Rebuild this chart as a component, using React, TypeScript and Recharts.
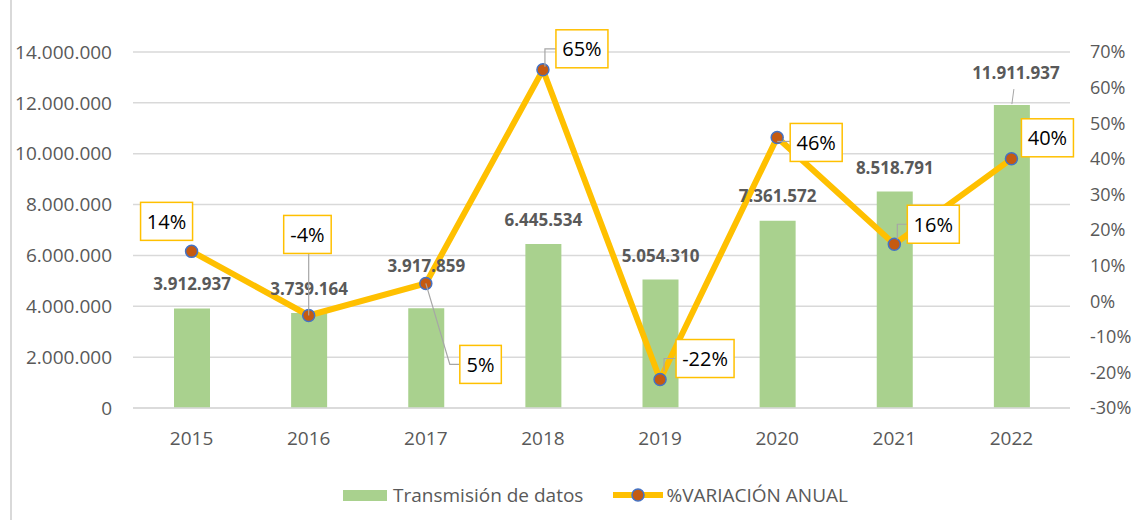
import React from 'react';
import { ComposedChart, Bar, Line, XAxis, YAxis, CartesianGrid, Legend, LabelList } from 'recharts';

const YEARS = ['2015', '2016', '2017', '2018', '2019', '2020', '2021', '2022'];
const TRANSMISION = [3912937, 3739164, 3917859, 6445534, 5054310, 7361572, 8518791, 11911937];
const VARIACION = [14, -4, 5, 65, -22, 46, 16, 40];
const LEFT_TICKS = [0, 2000000, 4000000, 6000000, 8000000, 10000000, 12000000, 14000000];
const RIGHT_TICKS = [-30, -20, -10, 0, 10, 20, 30, 40, 50, 60, 70];

const data = YEARS.map((year, i) => ({ year, transmision: TRANSMISION[i], variacion: VARIACION[i] }));

const GREEN = '#A9D18E';
const YELLOW = '#FFC000';
const DOT = '#C55A11';
const DOT_EDGE = '#4472C4';
const AXIS_TEXT = '#595959';
const LEADER = '#A6A6A6';
const FONT = '"Open Sans", "Noto Sans", sans-serif';

// manual placement of the data labels, like the original workbook
const BAR_LABEL_POS = [
  { dx: 0, dy: -25 },
  { dx: 0, dy: -24 },
  { dx: 0, dy: -43 },
  { dx: 0, dy: -25 },
  { dx: 0, dy: -24 },
  { dx: 0, dy: -25 },
  { dx: 0, dy: -24 },
  { dx: 4, dy: -33, leader: [[2, -16], [0, -1]] },
];

const PCT_LABEL_POS: { dx: number; dy: number; leader?: number[][] }[] = [
  { dx: -51, dy: -49 },
  { dx: -25, dy: -100, leader: [[0, 0], [0, -63]] },
  { dx: 34, dy: 62, leader: [[0, 0], [24, 81], [34, 81]] },
  { dx: 13, dy: -40, leader: [[2, -3], [2, -21], [13, -21]] },
  { dx: 16, dy: -40, leader: [[4, -8], [4, -21], [16, -21]] },
  { dx: 13, dy: -14, leader: [[0, 4], [13, 4]] },
  { dx: 13, dy: -39, leader: [[3, -5], [3, -20], [13, -20]] },
  { dx: 10, dy: -40 },
];

const fmtThousands = (n: number) => String(n).replace(/\B(?=(\d{3})+(?!\d))/g, '.');

const boxWidth = (txt: string) => {
  let w = 16;
  for (const c of txt) w += c === '%' ? 15 : c === '-' ? 6 : 10.5;
  return w;
};

const getBox = (p: any) => {
  const vb = p.viewBox || {};
  const x = p.x ?? vb.x ?? 0;
  const y = p.y ?? vb.y ?? 0;
  const width = p.width ?? vb.width ?? 0;
  const height = p.height ?? vb.height ?? 0;
  return { x: Number(x), y: Number(y), width: Number(width), height: Number(height) };
};

const BarValueLabel = (props: any) => {
  const { index, value } = props;
  const b = getBox(props);
  const pos = BAR_LABEL_POS[index] || { dx: 0, dy: -25 };
  const cx = b.x + b.width / 2;
  const top = b.y;
  return (
    <g>
      {pos.leader && (
        <line
          x1={cx + pos.leader[0][0]}
          y1={top + pos.leader[0][1]}
          x2={cx + pos.leader[1][0]}
          y2={top + pos.leader[1][1]}
          stroke={LEADER}
          strokeWidth={1}
        />
      )}
      <text
        x={cx + pos.dx}
        y={top + pos.dy}
        textAnchor="middle"
        dominantBaseline="central"
        fontSize={17}
        fontWeight={700}
        fill={AXIS_TEXT}
        fontFamily={FONT}
      >
        {fmtThousands(value)}
      </text>
    </g>
  );
};

const PctLabel = (props: any) => {
  const { index, value } = props;
  const b = getBox(props);
  const px = b.x + b.width / 2;
  const py = b.y + b.height / 2;
  const pos = PCT_LABEL_POS[index];
  const txt = `${value}%`;
  const w = boxWidth(txt);
  const h = 38;
  return (
    <g>
      {pos.leader && (
        <polyline
          points={pos.leader.map(([a, c]) => `${px + a},${py + c}`).join(' ')}
          fill="none"
          stroke={LEADER}
          strokeWidth={1.2}
        />
      )}
      <rect x={px + pos.dx} y={py + pos.dy} width={w} height={h} fill="#fff" stroke={YELLOW} strokeWidth={1.5} />
      <text
        x={px + pos.dx + w / 2}
        y={py + pos.dy + h / 2}
        textAnchor="middle"
        dominantBaseline="central"
        fontSize={20}
        fill="#000"
        fontFamily={FONT}
      >
        {txt}
      </text>
    </g>
  );
};

const LegendBox = () => (
  <div
    style={{
      height: 30,
      display: 'flex',
      alignItems: 'center',
      paddingLeft: 343,
      fontFamily: FONT,
      fontSize: 19,
      color: AXIS_TEXT,
    }}
  >
    <span style={{ display: 'inline-block', width: 44, height: 11, background: GREEN, marginRight: 6 }} />
    <span>Transmisión de datos</span>
    <svg width={52} height={20} style={{ marginLeft: 30, marginRight: 1 }}>
      <line x1={0} y1={10} x2={50} y2={10} stroke={YELLOW} strokeWidth={6} />
      <circle cx={25} cy={10} r={6} fill={DOT} stroke={DOT_EDGE} strokeWidth={1.5} />
    </svg>
    <span>%VARIACIÓN ANUAL</span>
  </div>
);

export default function App() {
  return (
    <div style={{ position: 'absolute', left: 0, top: 0, width: 1134, height: 520, background: '#fff' }}>
      <div style={{ position: 'absolute', left: 10, top: 0, width: 2, height: 520, background: '#D9D9D9' }} />
      <ComposedChart
        width={1134}
        height={520}
        data={data}
        margin={{ top: 52, right: 0, bottom: 10, left: 0 }}
        style={{ fontFamily: FONT }}
      >
        <CartesianGrid yAxisId="left" vertical={false} stroke="#D9D9D9" strokeWidth={1.5} />
        <XAxis
          dataKey="year"
          height={72}
          axisLine={{ stroke: '#D9D9D9', strokeWidth: 1.5 }}
          tickLine={false}
          tickSize={0}
          tickMargin={24}
          tick={{ fill: AXIS_TEXT, fontSize: 19, fontFamily: FONT }}
        />
        <YAxis
          yAxisId="left"
          width={133}
          domain={[0, 14000000]}
          ticks={LEFT_TICKS}
          interval={0}
          axisLine={false}
          tickLine={false}
          tickSize={0}
          tickMargin={21}
          tickFormatter={fmtThousands}
          tick={{ fill: AXIS_TEXT, fontSize: 19, fontFamily: FONT }}
        />
        <YAxis
          yAxisId="right"
          orientation="right"
          width={64}
          domain={[-30, 70]}
          ticks={RIGHT_TICKS}
          interval={0}
          axisLine={false}
          tickLine={false}
          tickSize={0}
          tickMargin={20}
          tickFormatter={(v: number) => `${v}%`}
          tick={{ fill: AXIS_TEXT, fontSize: 18, fontFamily: FONT }}
        />
        <Legend verticalAlign="bottom" height={30} content={<LegendBox />} />
        <Bar yAxisId="left" dataKey="transmision" name="Transmisión de datos" fill={GREEN} barSize={36} isAnimationActive={false}>
          <LabelList dataKey="transmision" content={<BarValueLabel />} />
        </Bar>
        <Line
          yAxisId="right"
          dataKey="variacion"
          name="%VARIACIÓN ANUAL"
          type="linear"
          stroke={YELLOW}
          strokeWidth={6}
          dot={{ r: 6, fill: DOT, stroke: DOT_EDGE, strokeWidth: 1.5 }}
          activeDot={false}
          isAnimationActive={false}
        >
          <LabelList dataKey="variacion" content={<PctLabel />} />
        </Line>
      </ComposedChart>
    </div>
  );
}
